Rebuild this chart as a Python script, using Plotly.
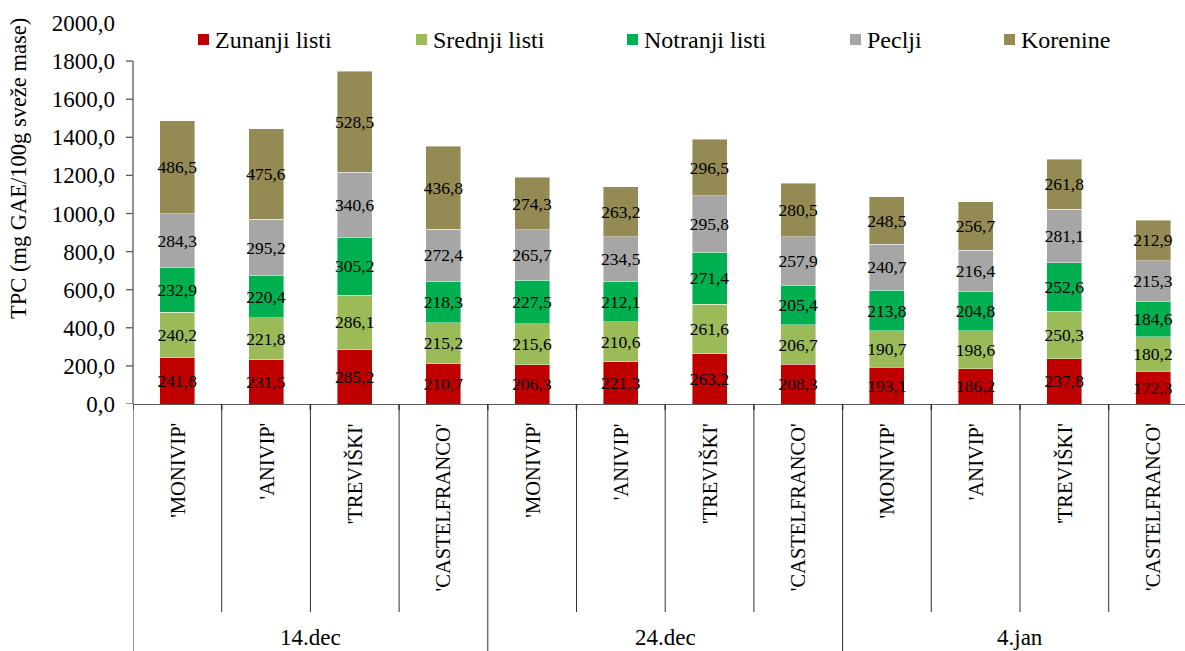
import plotly.graph_objects as go

# Cultivars sampled on each date and the sampling dates
cultivars = ["'MONIVIP'", "'ANIVIP'", "'TREVIŠKI'", "'CASTELFRANCO'"]
dates = ["14.dec", "24.dec", "4.jan"]

# TPC per plant part (mg GAE/100g fresh mass), 4 cultivars x 3 dates
zunanji = [241.8, 231.5, 285.2, 210.7, 206.3, 221.3, 263.2, 208.3, 193.1, 186.2, 237.8, 172.3]
srednji = [240.2, 221.8, 286.1, 215.2, 215.6, 210.6, 261.6, 206.7, 190.7, 198.6, 250.3, 180.2]
notranji = [232.9, 220.4, 305.2, 218.3, 227.5, 212.1, 271.4, 205.4, 213.8, 204.8, 252.6, 184.6]
peclji = [284.3, 295.2, 340.6, 272.4, 265.7, 234.5, 295.8, 257.9, 240.7, 216.4, 281.1, 215.3]
korenine = [486.5, 475.6, 528.5, 436.8, 274.3, 263.2, 296.5, 280.5, 248.5, 256.7, 261.8, 212.9]

series = [
    ("Zunanji listi", zunanji, "#C00000"),
    ("Srednji listi", srednji, "#9BBB59"),
    ("Notranji listi", notranji, "#00B050"),
    ("Peclji", peclji, "#A6A6A6"),
    ("Korenine", korenine, "#948A54"),
]

y_ticks = list(range(0, 2001, 200))
y_line_top = 1800

FONT = "Liberation Serif"

# canvas geometry (pixels)
W, H = 1185, 651
ML, MR, MT, MB = 133, 0, 23, 247
PW, PH = W - ML - MR, H - MT - MB
CAT_PX = 88.7  # width of one category slot

n = len(cultivars) * len(dates)
xs = list(range(n))
labels = [c for _ in dates for c in cultivars]

fig = go.Figure()
for name, vals, color in series:
    fig.add_trace(go.Bar(
        x=xs, y=vals, name=name,
        marker=dict(color=color, line=dict(width=0.6, color="rgba(255,255,255,0.7)")),
        width=0.395,
        texttemplate="%{y:.1f}",
        textposition="inside",
        insidetextanchor="middle",
        textangle=0,
        textfont=dict(family=FONT, size=17.5, color="black"),
        constraintext="none",
        cliponaxis=False,
        showlegend=False,
    ))

def px_x(px):
    return (px - ML) / PW

def px_y(py):
    return (H - MB - py) / PH

shapes = []
annotations = []

# y axis line (drawn only up to 1800) and its tick marks
shapes.append(dict(type="line", xref="paper", yref="y", x0=0, x1=0, y0=0, y1=y_line_top,
                   line=dict(color="#595959", width=1.3)))
for t in y_ticks:
    if t <= y_line_top:
        shapes.append(dict(type="line", xref="paper", yref="y", x0=-7 / PW, x1=0, y0=t, y1=t,
                           line=dict(color="#595959", width=1.3)))

# short ticks on the category axis at every slot boundary
for k in range(n):
    shapes.append(dict(type="line", xref="x", yref="paper", x0=k - 0.5, x1=k - 0.5,
                       y0=0, y1=px_y(410), line=dict(color="#595959", width=1.6)))

# category separators below the axis; date-group separators run to the bottom
group_len = len(cultivars)
for k in range(n):
    xb = k - 0.5
    bottom = px_y(H) if k % group_len == 0 else px_y(612)
    shapes.append(dict(type="line", xref="x", yref="paper", x0=xb, x1=xb, y0=0, y1=bottom,
                       line=dict(color="#303030", width=1)))

# rotated cultivar labels
for x, lab in zip(xs, labels):
    annotations.append(dict(x=x, y=px_y(421), xref="x", yref="paper", text=lab,
                            textangle=-90, showarrow=False, xanchor="center", yanchor="top",
                            font=dict(family=FONT, size=20.5, color="black")))

# date group labels
for g, d in enumerate(dates):
    annotations.append(dict(x=g * group_len + (group_len - 1) / 2, y=px_y(637), xref="x", yref="paper",
                            text=d, showarrow=False, xanchor="center", yanchor="middle",
                            font=dict(family=FONT, size=23, color="black")))

# y axis title
annotations.append(dict(x=px_x(18), y=px_y(169), xref="paper", yref="paper",
                        text="TPC (mg GAE/100g sveže mase)", textangle=-90, showarrow=False,
                        xanchor="center", yanchor="middle",
                        font=dict(family=FONT, size=22.5, color="black")))

# legend row: colour squares followed by names
legend_x = [198, 416, 627, 850, 1004]
for (name, _, color), lx in zip(series, legend_x):
    shapes.append(dict(type="rect", xref="paper", yref="paper",
                       x0=px_x(lx), x1=px_x(lx + 11), y0=px_y(45), y1=px_y(34),
                       fillcolor=color, line=dict(width=0)))
    annotations.append(dict(x=px_x(lx + 15), y=px_y(39.5), xref="paper", yref="paper",
                            text=name, showarrow=False, xanchor="left", yanchor="middle",
                            font=dict(family=FONT, size=24, color="black")))

fig.update_layout(
    width=W, height=H,
    margin=dict(l=ML, r=MR, t=MT, b=MB, pad=0),
    barmode="stack",
    separators=",.",
    plot_bgcolor="white", paper_bgcolor="white",
    uniformtext=dict(mode="show", minsize=17.5),
    font=dict(family=FONT, color="black"),
    xaxis=dict(range=[-0.5, -0.5 + PW / CAT_PX], showticklabels=False, ticks="",
               showgrid=False, zeroline=False, showline=True, linecolor="#595959", linewidth=1.3,
               fixedrange=True),
    yaxis=dict(range=[0, 2000], tickvals=y_ticks, tickformat=".1f", ticks="",
               showgrid=False, zeroline=False, showline=False,
               ticklabelstandoff=17,
               tickfont=dict(family=FONT, size=23, color="black"), fixedrange=True),
    shapes=shapes,
    annotations=annotations,
)

fig.write_html("out.html")
